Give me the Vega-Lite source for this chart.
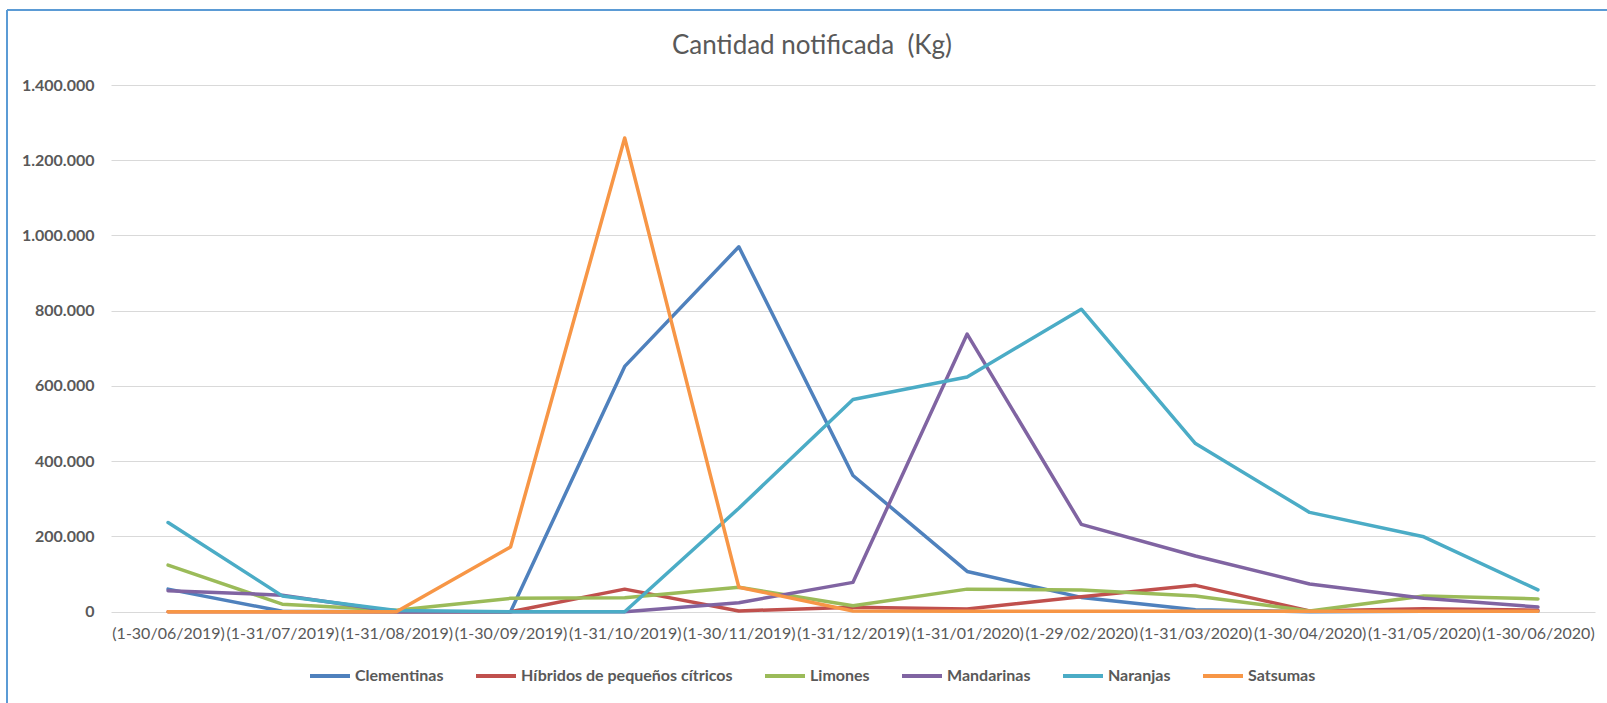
{
  "$schema": "https://vega.github.io/schema/vega-lite/v6.json",
  "width": 1600,
  "height": 693,
  "autosize": {"type": "none"},
  "padding": {"left": 7, "top": 10, "right": 0, "bottom": 0},
  "background": "white",
  "title": {"text": "Cantidad notificada \u00a0(Kg)", "anchor": "middle", "frame": "group", "orient": "top", "offset": -49, "dx": 5, "font": "Lato", "fontSize": 26, "fontWeight": "normal", "color": "#595959"},
  "data": {"values": [
    {"mes": "(1-30/06/2019)", "serie": "Clementinas", "kg": 60000},
    {"mes": "(1-31/07/2019)", "serie": "Clementinas", "kg": 1000},
    {"mes": "(1-31/08/2019)", "serie": "Clementinas", "kg": 0},
    {"mes": "(1-30/09/2019)", "serie": "Clementinas", "kg": 0},
    {"mes": "(1-31/10/2019)", "serie": "Clementinas", "kg": 652000},
    {"mes": "(1-30/11/2019)", "serie": "Clementinas", "kg": 970000},
    {"mes": "(1-31/12/2019)", "serie": "Clementinas", "kg": 362000},
    {"mes": "(1-31/01/2020)", "serie": "Clementinas", "kg": 107000},
    {"mes": "(1-29/02/2020)", "serie": "Clementinas", "kg": 38000},
    {"mes": "(1-31/03/2020)", "serie": "Clementinas", "kg": 5000},
    {"mes": "(1-30/04/2020)", "serie": "Clementinas", "kg": 0},
    {"mes": "(1-31/05/2020)", "serie": "Clementinas", "kg": 1000},
    {"mes": "(1-30/06/2020)", "serie": "Clementinas", "kg": 1000},
    {"mes": "(1-30/06/2019)", "serie": "Híbridos de pequeños cítricos", "kg": 0},
    {"mes": "(1-31/07/2019)", "serie": "Híbridos de pequeños cítricos", "kg": 0},
    {"mes": "(1-31/08/2019)", "serie": "Híbridos de pequeños cítricos", "kg": 0},
    {"mes": "(1-30/09/2019)", "serie": "Híbridos de pequeños cítricos", "kg": 0},
    {"mes": "(1-31/10/2019)", "serie": "Híbridos de pequeños cítricos", "kg": 60000},
    {"mes": "(1-30/11/2019)", "serie": "Híbridos de pequeños cítricos", "kg": 2000},
    {"mes": "(1-31/12/2019)", "serie": "Híbridos de pequeños cítricos", "kg": 12000},
    {"mes": "(1-31/01/2020)", "serie": "Híbridos de pequeños cítricos", "kg": 7000},
    {"mes": "(1-29/02/2020)", "serie": "Híbridos de pequeños cítricos", "kg": 40000},
    {"mes": "(1-31/03/2020)", "serie": "Híbridos de pequeños cítricos", "kg": 70000},
    {"mes": "(1-30/04/2020)", "serie": "Híbridos de pequeños cítricos", "kg": 2000},
    {"mes": "(1-31/05/2020)", "serie": "Híbridos de pequeños cítricos", "kg": 8000},
    {"mes": "(1-30/06/2020)", "serie": "Híbridos de pequeños cítricos", "kg": 4000},
    {"mes": "(1-30/06/2019)", "serie": "Limones", "kg": 124000},
    {"mes": "(1-31/07/2019)", "serie": "Limones", "kg": 20000},
    {"mes": "(1-31/08/2019)", "serie": "Limones", "kg": 4000},
    {"mes": "(1-30/09/2019)", "serie": "Limones", "kg": 35500},
    {"mes": "(1-31/10/2019)", "serie": "Limones", "kg": 37000},
    {"mes": "(1-30/11/2019)", "serie": "Limones", "kg": 65000},
    {"mes": "(1-31/12/2019)", "serie": "Limones", "kg": 16000},
    {"mes": "(1-31/01/2020)", "serie": "Limones", "kg": 60000},
    {"mes": "(1-29/02/2020)", "serie": "Limones", "kg": 58000},
    {"mes": "(1-31/03/2020)", "serie": "Limones", "kg": 42000},
    {"mes": "(1-30/04/2020)", "serie": "Limones", "kg": 2000},
    {"mes": "(1-31/05/2020)", "serie": "Limones", "kg": 42000},
    {"mes": "(1-30/06/2020)", "serie": "Limones", "kg": 34000},
    {"mes": "(1-30/06/2019)", "serie": "Mandarinas", "kg": 56000},
    {"mes": "(1-31/07/2019)", "serie": "Mandarinas", "kg": 44000},
    {"mes": "(1-31/08/2019)", "serie": "Mandarinas", "kg": 0},
    {"mes": "(1-30/09/2019)", "serie": "Mandarinas", "kg": 0},
    {"mes": "(1-31/10/2019)", "serie": "Mandarinas", "kg": 0},
    {"mes": "(1-30/11/2019)", "serie": "Mandarinas", "kg": 24000},
    {"mes": "(1-31/12/2019)", "serie": "Mandarinas", "kg": 78000},
    {"mes": "(1-31/01/2020)", "serie": "Mandarinas", "kg": 738000},
    {"mes": "(1-29/02/2020)", "serie": "Mandarinas", "kg": 232000},
    {"mes": "(1-31/03/2020)", "serie": "Mandarinas", "kg": 148000},
    {"mes": "(1-30/04/2020)", "serie": "Mandarinas", "kg": 73500},
    {"mes": "(1-31/05/2020)", "serie": "Mandarinas", "kg": 35500},
    {"mes": "(1-30/06/2020)", "serie": "Mandarinas", "kg": 12500},
    {"mes": "(1-30/06/2019)", "serie": "Naranjas", "kg": 237000},
    {"mes": "(1-31/07/2019)", "serie": "Naranjas", "kg": 42000},
    {"mes": "(1-31/08/2019)", "serie": "Naranjas", "kg": 3000},
    {"mes": "(1-30/09/2019)", "serie": "Naranjas", "kg": 0},
    {"mes": "(1-31/10/2019)", "serie": "Naranjas", "kg": 0},
    {"mes": "(1-30/11/2019)", "serie": "Naranjas", "kg": 275000},
    {"mes": "(1-31/12/2019)", "serie": "Naranjas", "kg": 564000},
    {"mes": "(1-31/01/2020)", "serie": "Naranjas", "kg": 624000},
    {"mes": "(1-29/02/2020)", "serie": "Naranjas", "kg": 804000},
    {"mes": "(1-31/03/2020)", "serie": "Naranjas", "kg": 447000},
    {"mes": "(1-30/04/2020)", "serie": "Naranjas", "kg": 264000},
    {"mes": "(1-31/05/2020)", "serie": "Naranjas", "kg": 199000},
    {"mes": "(1-30/06/2020)", "serie": "Naranjas", "kg": 58000},
    {"mes": "(1-30/06/2019)", "serie": "Satsumas", "kg": 0},
    {"mes": "(1-31/07/2019)", "serie": "Satsumas", "kg": 0},
    {"mes": "(1-31/08/2019)", "serie": "Satsumas", "kg": 0},
    {"mes": "(1-30/09/2019)", "serie": "Satsumas", "kg": 172000},
    {"mes": "(1-31/10/2019)", "serie": "Satsumas", "kg": 1259000},
    {"mes": "(1-30/11/2019)", "serie": "Satsumas", "kg": 65000},
    {"mes": "(1-31/12/2019)", "serie": "Satsumas", "kg": 2000},
    {"mes": "(1-31/01/2020)", "serie": "Satsumas", "kg": 1000},
    {"mes": "(1-29/02/2020)", "serie": "Satsumas", "kg": 1000},
    {"mes": "(1-31/03/2020)", "serie": "Satsumas", "kg": 1000},
    {"mes": "(1-30/04/2020)", "serie": "Satsumas", "kg": 1000},
    {"mes": "(1-31/05/2020)", "serie": "Satsumas", "kg": 1000},
    {"mes": "(1-30/06/2020)", "serie": "Satsumas", "kg": 1000}
  ]},
  "mark": {"type": "line", "strokeWidth": 3.5, "strokeCap": "round", "strokeJoin": "round"},
  "encoding": {
    "x": {
      "field": "mes", "type": "nominal",
      "scale": {"type": "point", "domain": ["(1-30/06/2019)", "(1-31/07/2019)", "(1-31/08/2019)", "(1-30/09/2019)", "(1-31/10/2019)", "(1-30/11/2019)", "(1-31/12/2019)", "(1-31/01/2020)", "(1-29/02/2020)", "(1-31/03/2020)", "(1-30/04/2020)", "(1-31/05/2020)", "(1-30/06/2020)"], "range": [104, 1588], "padding": 0.5},
      "axis": {"title": null, "orient": "bottom", "offset": -90, "domain": false, "ticks": false, "tickSize": 0, "grid": false, "labelAngle": 0, "labelPadding": 20, "labelBaseline": "middle", "labelFont": "Lato", "labelFontSize": 16, "labelColor": "#595959", "labelOverlap": false, "labelBound": false}
    },
    "y": {
      "field": "kg", "type": "quantitative",
      "scale": {"domain": [0, 1400000], "range": [601.7, 75], "nice": false},
      "axis": {"title": null, "orient": "left", "offset": -89, "values": [0, 200000, 400000, 600000, 800000, 1000000, 1200000, 1400000], "format": ",d", "domain": false, "ticks": false, "tickSize": 0, "labelPadding": 2, "labelFont": "Lato", "labelFontSize": 16, "labelFontWeight": "bold", "labelColor": "#595959", "grid": true, "gridColor": "#d9d9d9", "gridWidth": 1}
    },
    "color": {
      "field": "serie", "type": "nominal",
      "scale": {"domain": ["Clementinas", "Híbridos de pequeños cítricos", "Limones", "Mandarinas", "Naranjas", "Satsumas"], "range": ["#4F81BD", "#C0504D", "#9BBB59", "#8064A2", "#4BACC6", "#F79646"]},
      "legend": {"orient": "none", "legendX": 301, "legendY": 644, "direction": "horizontal", "title": null, "symbolType": "stroke", "symbolSize": 1600, "symbolStrokeWidth": 4, "labelFont": "Lato", "labelFontSize": 16, "labelFontWeight": "bold", "labelColor": "#595959", "labelOffset": 3, "columnPadding": 24, "labelLimit": 400}
    }
  },
  "config": {
    "locale": {"number": {"decimal": ",", "thousands": ".", "grouping": [3], "currency": ["", " €"]}},
    "view": {"stroke": "#5b9bd5", "strokeWidth": 2, "strokeDash": [1600, 2293, 693, 0]}
  }
}
